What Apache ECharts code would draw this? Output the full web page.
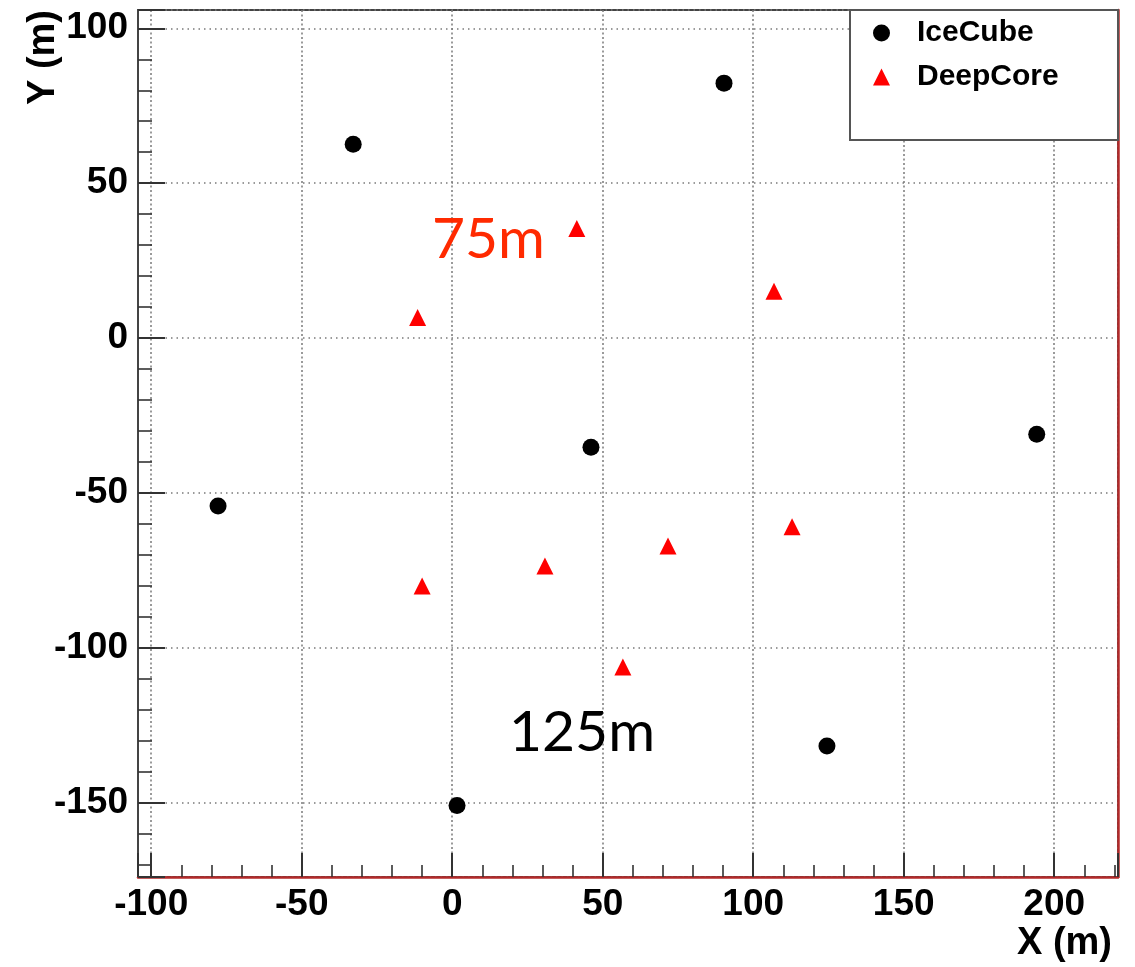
<!DOCTYPE html>
<html>
<head>
<meta charset="utf-8">
<title>IceCube / DeepCore string positions</title>
<script src="https://cdn.jsdelivr.net/npm/echarts@6/dist/echarts.min.js"></script>
<style>
  html, body { margin: 0; padding: 0; background: #ffffff; }
  #chart { width: 1135px; height: 967px; }
</style>
</head>
<body>
<div id="chart"></div>
<script>
// String positions on the surface (metres)
const iceCubeX = [-32.9, 90.3, 46.1, -77.8, 194.2, 1.6, 124.5];
const iceCubeY = [62.6, 82.3, -35.2, -54.2, -31.0, -150.8, -131.6];
const deepCoreX = [41.4, 106.9, -11.5, -10.0, 30.8, 71.7, 112.9, 56.7];
const deepCoreY = [35.4, 15.1, 6.7, -80.0, -73.5, -67.1, -60.9, -106.1];

// Axis ranges and labelled ticks
const xRange = [-104.4, 221.2];
const yRange = [-173.9, 105.9];
const xTickLabels = [-100, -50, 0, 50, 100, 150, 200];
const yTickLabels = [-150, -100, -50, 0, 50, 100];

const seriesNames = ['IceCube', 'DeepCore'];
const spacingNotes = [
  { text: '75m', color: '#ff2a00' },
  { text: '125m', color: '#000000' }
];

const pairs = (xs, ys) => xs.map((x, i) => [x, ys[i]]);

const tickFont = {
  color: '#000',
  fontFamily: '"Liberation Sans", Arial, Helvetica, sans-serif',
  fontWeight: 'bold',
  fontSize: 37
};

const labelFrom = list => v => (list.some(t => Math.abs(t - v) < 1e-6) ? String(Math.round(v)) : '');

const chart = echarts.init(document.getElementById('chart'), null, { renderer: 'canvas' });

chart.setOption({
  animation: false,
  backgroundColor: '#ffffff',
  grid: {
    left: 138, right: 17, top: 10, bottom: 90,
    containLabel: false,
    outerBoundsMode: 'none',
    show: true,
    borderColor: '#444',
    borderWidth: 2,
    backgroundColor: 'transparent'
  },
  xAxis: {
    type: 'value',
    min: xRange[0], max: xRange[1],
    splitNumber: 5,
    axisLine: { show: true, onZero: false, lineStyle: { color: '#b42a2a', width: 2.5 } },
    axisTick: { show: true, inside: true, length: 24, lineStyle: { color: '#333', width: 2 } },
    minorTick: { show: true, splitNumber: 5, length: 12, lineStyle: { color: '#333', width: 1.6 } },
    axisLabel: Object.assign({ margin: 9, formatter: labelFrom(xTickLabels), showMinLabel: true, showMaxLabel: true, hideOverlap: false }, tickFont),
    splitLine: { show: true, lineStyle: { color: '#7a7a7a', width: 1.5, type: [2, 2.5] } }
  },
  yAxis: [
    {
      type: 'value',
      min: yRange[0], max: yRange[1],
      splitNumber: 5,
      axisLine: { show: true, onZero: false, lineStyle: { color: '#444', width: 2 } },
      axisTick: { show: true, inside: true, length: 27, lineStyle: { color: '#333', width: 2 } },
      minorTick: { show: true, splitNumber: 5, length: 14, lineStyle: { color: '#333', width: 1.6 } },
      axisLabel: Object.assign({ margin: 10, formatter: labelFrom(yTickLabels), showMinLabel: true, showMaxLabel: true, hideOverlap: false }, tickFont),
      splitLine: { show: true, lineStyle: { color: '#7a7a7a', width: 1.5, type: [1.5, 4] } }
    },
    {
      type: 'value',
      position: 'right',
      min: yRange[0], max: yRange[1],
      axisLine: { show: true, onZero: false, lineStyle: { color: '#b42a2a', width: 2.5 } },
      axisTick: { show: false },
      axisLabel: { show: false },
      splitLine: { show: false }
    }
  ],
  legend: {
    orient: 'vertical',
    left: 873,
    top: 18,
    padding: 0,
    z: 10,
    itemWidth: 17,
    itemHeight: 17,
    itemGap: 14,
    selectedMode: false,
    data: [
      { name: seriesNames[0], icon: 'circle' },
      { name: seriesNames[1], icon: 'triangle' }
    ],
    textStyle: {
      color: '#000',
      fontFamily: '"Liberation Sans", Arial, Helvetica, sans-serif',
      fontWeight: 'bold',
      fontSize: 30,
      lineHeight: 30,
      padding: [0, 0, 0, 22]
    }
  },
  graphic: [
    {
      type: 'rect',
      z: 5,
      shape: { x: 850, y: 10, width: 268, height: 130 },
      style: { fill: '#ffffff', stroke: '#555', lineWidth: 2 }
    },
    {
      type: 'text',
      z: 6,
      x: 432, y: 240,
      style: {
        text: spacingNotes[0].text,
        fill: spacingNotes[0].color,
        fontFamily: 'Lato, "Open Sans", sans-serif',
        fontSize: 57,
        textAlign: 'left',
        textVerticalAlign: 'middle'
      }
    },
    {
      type: 'text',
      z: 6,
      x: 509, y: 733,
      style: {
        text: spacingNotes[1].text,
        fill: spacingNotes[1].color,
        fontFamily: 'Lato, "Open Sans", sans-serif',
        fontSize: 57,
        textAlign: 'left',
        textVerticalAlign: 'middle'
      }
    },
    {
      type: 'text',
      z: 6,
      x: 1112, y: 944,
      style: {
        text: 'X (m)',
        fill: '#000',
        fontFamily: '"Liberation Sans", Arial, Helvetica, sans-serif',
        fontWeight: 'bold',
        fontSize: 38,
        textAlign: 'right',
        textVerticalAlign: 'middle'
      }
    },
    {
      type: 'text',
      z: 6,
      x: 44, y: 10,
      rotation: Math.PI / 2,
      style: {
        text: 'Y (m)',
        fill: '#000',
        fontFamily: '"Liberation Sans", Arial, Helvetica, sans-serif',
        fontWeight: 'bold',
        fontSize: 38,
        textAlign: 'right',
        textVerticalAlign: 'middle'
      }
    }
  ],
  series: [
    {
      name: seriesNames[0],
      type: 'scatter',
      symbol: 'circle',
      symbolSize: 17,
      itemStyle: { color: '#000000', opacity: 1 },
      data: pairs(iceCubeX, iceCubeY)
    },
    {
      name: seriesNames[1],
      type: 'scatter',
      symbol: 'triangle',
      symbolSize: [17, 17],
      itemStyle: { color: '#ff0000', opacity: 1 },
      data: pairs(deepCoreX, deepCoreY)
    }
  ]
});
</script>
</body>
</html>
